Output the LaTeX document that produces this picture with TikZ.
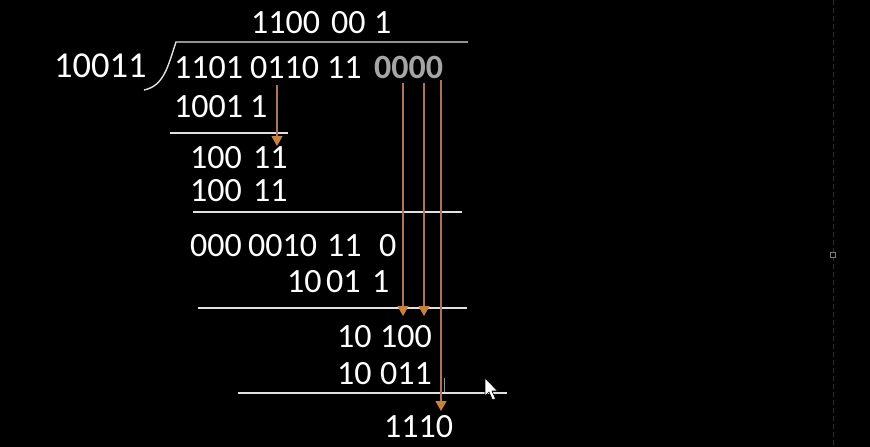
\documentclass[tikz,border=0pt]{standalone}
\usepackage{fontspec}
\setmainfont{Carlito}
\usetikzlibrary{arrows.meta}
\definecolor{arr}{RGB}{175,115,85}
\definecolor{arrhead}{RGB}{200,130,60}
\definecolor{rulec}{RGB}{225,225,225}
\definecolor{dim}{RGB}{165,165,165}
\definecolor{guide}{RGB}{110,5,110}
\begin{document}
\begin{tikzpicture}[x=1pt,y=-1pt,
  num/.style={anchor=base west,inner sep=0pt,text=white,font=\fontsize{34}{40}\selectfont},
  bignum/.style={num,font=\fontsize{36.5}{42}\selectfont},
  dimnum/.style={num,text=dim,font=\fontsize{34}{40}\selectfont\bfseries},
  rulel/.style={draw=rulec,line width=1.4pt},
  carry/.style={draw=arr,line width=1.1pt,-{Triangle[width=11pt,length=10pt,color=arrhead]}}]
\fill[black] (0,0) rectangle (870,447);
\useasboundingbox (0,0) rectangle (870,447);

% guide line
\draw[guide,line width=1pt,dash pattern=on 5pt off 3pt] (833,0) -- (833,447);
\draw[draw={rgb,255:red,125;green,125;blue,125},fill=black,line width=0.8pt] (830.5,252.5) rectangle (835.5,257.5);

% quotient
\node[num] (q1) at (251,33) {1100};
\node[num] (q2) at (331,33) {00};
\node[num] (q3) at (374,33) {1};

% divisor and dividend
\node[bignum] (dv) at (54,77) {10011};
\node[num] (d1) at (174,78) {1101};
\node[num] (d2) at (250,78) {0110};
\node[num] (d3) at (327,78) {11};
\node[dimnum] (d4) at (374,78) {0000};

% division bracket
\coordinate (bt) at (176,42);
\coordinate (bb) at (144,90);
\coordinate (te) at (468,42);
\draw[rulel] (te) -- (bt) .. controls (168,66) and (164,86) .. (bb);

% step 1
\node[num] (s1a) at (174,117) {1001};
\node[num] (s1b) at (250,117) {1};
\coordinate (l1a) at (170,133); \coordinate (l1b) at (288,133);
\draw[rulel] (l1a) -- (l1b);

\node[num] (r1a) at (190,168) {100};
\node[num] (r1b) at (253,168) {11};
\node[num] (t1a) at (190,201) {100};
\node[num] (t1b) at (253,201) {11};
\coordinate (l2a) at (193,212); \coordinate (l2b) at (462,212);
\draw[rulel] (l2a) -- (l2b);

% step 2
\node[num] (r2a) at (190,256) {000};
\node[num] (r2b) at (248,256) {0010};
\node[num] (r2c) at (327,256) {11};
\node[num] (r2d) at (379,256) {0};
\node[num] (t2a) at (287,292) {10};
\node[num] (t2b) at (326,292) {01};
\node[num] (t2c) at (372,292) {1};
\coordinate (l3a) at (198,308); \coordinate (l3b) at (467,308);
\draw[rulel] (l3a) -- (l3b);

% step 3
\node[num] (r3a) at (337,347) {10};
\node[num] (r3b) at (380,347) {100};
\node[num] (t3a) at (337,384) {10};
\node[num] (t3b) at (380,384) {011};
\coordinate (l4a) at (238,393); \coordinate (l4b) at (507,393);
\draw[rulel] (l4a) -- (l4b);

% remainder
\node[num] (rem) at (384,437) {1110};

% bring-down arrows
\coordinate (a1s) at (277,85);  \coordinate (a1e) at (277,146);
\coordinate (a2s) at (403,83);  \coordinate (a2e) at (403,316);
\coordinate (a3s) at (424,83);  \coordinate (a3e) at (424,316);
\coordinate (a4s) at (441,80);  \coordinate (a4e) at (441,411);
\draw[carry] (a1s) -- (a1e);
\draw[carry] (a2s) -- (a2e);
\draw[carry] (a3s) -- (a3e);
\draw[carry] (a4s) -- (a4e);

% text caret
\coordinate (c1) at (444,378); \coordinate (c2) at (444,392);
\draw[draw={rgb,255:red,150;green,150;blue,150},line width=0.8pt] (c1) -- (c2);

% mouse pointer
\draw[fill=white,draw=black,line width=0.6pt] (485,378) -- (485,396) -- (489,392) -- (492.5,400) -- (495.5,398.8) -- (492,391) -- (497.5,391) -- cycle;
\end{tikzpicture}
\end{document}
